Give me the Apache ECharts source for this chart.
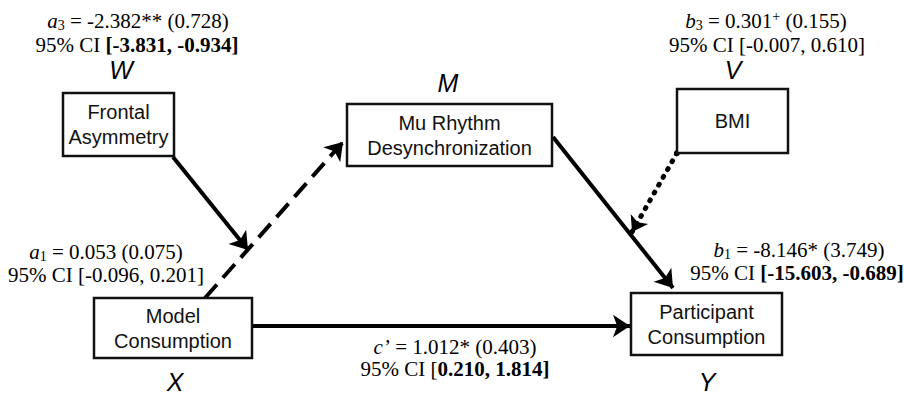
<!DOCTYPE html>
<html>
<head>
<meta charset="utf-8">
<script src="https://cdn.jsdelivr.net/npm/echarts@6/dist/echarts.min.js"></script>
<style>
html,body{margin:0;padding:0;background:#fff;}
#c{width:904px;height:395px;}
</style>
</head>
<body>
<div id="c"></div>
<script>
// ---- DATA ----
const boxLabels = ['Frontal\nAsymmetry', 'Mu Rhythm\nDesynchronization', 'BMI', 'Model\nConsumption', 'Participant\nConsumption'];
const varLetters = ['W', 'M', 'V', 'X', 'Y'];
const pathFrom = ['W', 'M', 'X', 'X', 'V'];
const pathTo = ['X→M', 'Y', 'Y', 'M', 'M→Y'];
const pathStyle = ['solid', 'solid', 'solid', 'dashed', 'dotted'];
const coefLine1 = [
  '{i|a}{sub|3}{n| = -2.382** (0.728)}',
  '{i|b}{sub|3}{n| = 0.301}{sup|+}{n| (0.155)}',
  '{i|a}{sub|1}{n| = 0.053 (0.075)}',
  '{i|b}{sub|1}{n| = -8.146* (3.749)}',
  '{i|c’}{n| = 1.012* (0.403)}'
];
const coefLine2 = [
  '{n|95% CI }{b|[-3.831, -0.934]}',
  '{n|95% CI [-0.007, 0.610]}',
  '{n|95% CI [-0.096, 0.201]}',
  '{n|95% CI }{b|[-15.603, -0.689]}',
  '{n|95% CI [}{b|0.210, 1.814]}'
];

// ---- LAYOUT (diagram units) ----
const boxRects = [[63, 93, 174, 156], [347, 104, 552, 166], [677, 89, 788, 153], [94, 298, 252, 358], [631, 293, 782, 355]];
const letterPos = [[121, 70], [448, 83], [733, 70], [175, 382], [707, 382]];
const pathCoords = [
  [[173, 157], [248, 250]],
  [[553, 137], [673, 288]],
  [[252, 326], [630, 326]],
  [[205, 298], [343, 142]],
  [[677, 153], [632, 232]]
];
const coefPos1 = [[138, 21], [766, 21], [106, 252], [799, 250], [455, 347]];
const coefPos2 = [[137, 45], [767, 45], [106, 275], [797, 273], [455, 369]];

const SERIF = '"Liberation Serif", "Times New Roman", serif';
const SANS = '"Liberation Sans", Arial, sans-serif';
const rich = {
  n: {fontFamily: SERIF, fontSize: 21, lineHeight: 20, color: '#000'},
  b: {fontFamily: SERIF, fontSize: 21, lineHeight: 20, color: '#000', fontWeight: 'bold'},
  i: {fontFamily: SERIF, fontSize: 21, lineHeight: 20, color: '#000', fontStyle: 'italic'},
  sub: {fontFamily: SERIF, fontSize: 14, lineHeight: 12, padding: [9, 0, 0, 0], color: '#000'},
  sup: {fontFamily: SERIF, fontSize: 14, lineHeight: 12, padding: [0, 0, 9, 0], color: '#000'}
};

function linesFor(style) {
  const out = [];
  pathStyle.forEach((s, k) => { if (s === style) out.push({name: pathFrom[k] + '→' + pathTo[k], coords: pathCoords[k]}); });
  return out;
}

const textData = [];
coefLine1.forEach((t, k) => textData.push({value: coefPos1[k], label: {formatter: t}}));
coefLine2.forEach((t, k) => textData.push({value: coefPos2[k], label: {formatter: t}}));

const chart = echarts.init(document.getElementById('c'), null, {renderer: 'svg'});
chart.setOption({
  animation: false,
  backgroundColor: '#fff',
  grid: {left: 0, right: 0, top: 0, bottom: 0},
  xAxis: {type: 'value', min: 0, max: 904, show: false},
  yAxis: {type: 'value', min: 0, max: 395, inverse: true, show: false},
  series: [
    {
      type: 'lines', coordinateSystem: 'cartesian2d', z: 2,
      symbol: ['none', 'arrow'], symbolSize: 17,
      lineStyle: {color: '#000', width: 4, opacity: 1, type: 'solid'},
      data: linesFor('solid')
    },
    {
      type: 'lines', coordinateSystem: 'cartesian2d', z: 2,
      symbol: ['none', 'arrow'], symbolSize: 17,
      lineStyle: {color: '#000', width: 4, opacity: 1, type: [18, 9]},
      data: linesFor('dashed')
    },
    {
      type: 'lines', coordinateSystem: 'cartesian2d', z: 2,
      symbol: ['circle', 'arrow'], symbolSize: [6, 15],
      lineStyle: {color: '#000', width: 5, opacity: 1, type: [1, 8], cap: 'round'},
      data: linesFor('dotted')
    },
    {
      type: 'custom', coordinateSystem: 'cartesian2d', z: 3,
      data: boxRects.map((r, k) => ({value: r, name: boxLabels[k]})),
      renderItem: function (params, api) {
        const p0 = api.coord([api.value(0), api.value(1)]);
        const p1 = api.coord([api.value(2), api.value(3)]);
        return {
          type: 'rect',
          shape: {x: p0[0], y: p0[1], width: p1[0] - p0[0], height: p1[1] - p0[1]},
          style: {fill: '#fff', stroke: '#111', lineWidth: 2.5},
          textContent: {
            style: {text: boxLabels[params.dataIndex], fontFamily: SANS, fontSize: 20, lineHeight: 25, fill: '#111', align: 'center', verticalAlign: 'middle'}
          },
          textConfig: {position: 'inside'}
        };
      }
    },
    {
      type: 'scatter', z: 4, symbolSize: 1, itemStyle: {color: 'rgba(255,255,255,0)', opacity: 1},
      data: letterPos.map((p, k) => ({value: p, label: {formatter: varLetters[k]}})),
      label: {show: true, position: 'inside', fontFamily: SANS, fontStyle: 'italic', fontSize: 25, lineHeight: 18, color: '#000', opacity: 1, textBorderWidth: 0}
    },
    {
      type: 'scatter', z: 4, symbolSize: 1, itemStyle: {color: 'rgba(255,255,255,0)', opacity: 1},
      data: textData,
      label: {show: true, position: 'inside', align: 'center', verticalAlign: 'middle', opacity: 1, textBorderWidth: 0, rich: rich}
    }
  ]
});
</script>
</body>
</html>
